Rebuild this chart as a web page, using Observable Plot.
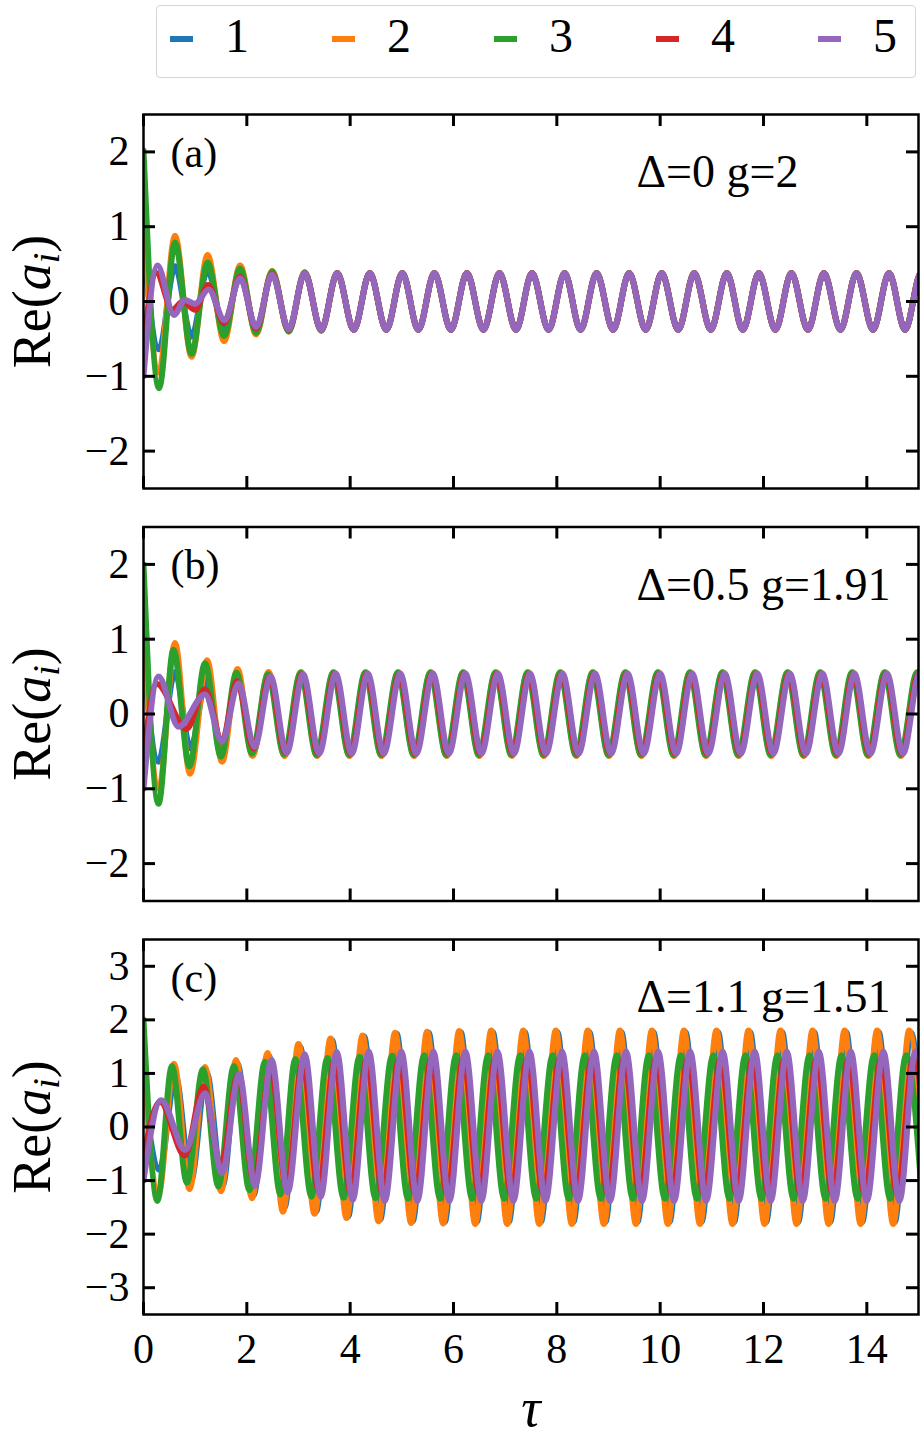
<!DOCTYPE html>
<html><head><meta charset="utf-8">
<script src="https://cdn.jsdelivr.net/npm/d3@7"></script>
<script src="https://cdn.jsdelivr.net/npm/@observablehq/plot@0.6"></script>
<style>
html,body{margin:0;padding:0;background:#fff;}
#root{position:relative;width:923px;font-family:"Liberation Serif","Times New Roman",serif;color:#000;}
#legend{position:relative;height:95px;}
.lgbox{position:absolute;left:156px;top:5px;width:758px;height:71px;border:1.5px solid #d5d5d5;border-radius:4px;}
.lgmark{position:absolute;top:36px;width:23px;height:6px;}
.lgtext{position:absolute;top:10px;width:40px;text-align:center;font-size:48px;line-height:52px;}
svg{display:block;}
</style></head><body><div id="root"><div id="legend"></div></div>
<script>
// ---------- data ----------
const seriesNames = ["1", "2", "3", "4", "5"];
const colors = ["#1f77b4", "#ff7f0e", "#2ca02c", "#d62728", "#9467bd"];
const xTicks = [0, 2, 4, 6, 8, 10, 12, 14];
const yTicksAB = [-2, -1, 0, 1, 2];
const yTicksC = [-3, -2, -1, 0, 1, 2, 3];
const panelLetters = ["(a)", "(b)", "(c)"];
const panelNotes = ["\u0394=0 g=2", "\u0394=0.5 g=1.91", "\u0394=1.1 g=1.51"];
const yLabel = "Re(a_i)";
const xLabel = "\u03c4";

// panel (a): extrema [tau, value]
const aSteady = [[3.75,0.38],[4.07,-0.38],[4.38,0.38],[4.70,-0.38],[5.01,0.38],[5.32,-0.38],[5.63,0.38],[5.95,-0.38],[6.26,0.38],[6.58,-0.38],[6.89,0.38],[7.21,-0.38],[7.52,0.38],[7.84,-0.38],[8.15,0.38],[8.46,-0.38],[8.77,0.38],[9.09,-0.38],[9.40,0.38],[9.72,-0.38],[10.03,0.38],[10.35,-0.38],[10.66,0.38],[10.98,-0.38],[11.29,0.38],[11.60,-0.38],[11.91,0.38],[12.23,-0.38],[12.54,0.38],[12.86,-0.38],[13.17,0.38],[13.49,-0.38],[13.80,0.38],[14.12,-0.38],[14.43,0.38],[14.74,-0.38],[15.05,0.38],[15.37,-0.38]];
const a1Start = [[0,0.70],[0.30,-0.64],[0.61,0.47],[0.93,-0.47],[1.24,0.42],[1.56,-0.40],[1.87,0.38],[2.18,-0.38],[2.49,0.38],[2.81,-0.38],[3.12,0.38],[3.44,-0.38]];
const a2Start = [[0,1.02],[0.30,-0.95],[0.61,0.88],[0.93,-0.74],[1.24,0.62],[1.56,-0.53],[1.87,0.48],[2.18,-0.44],[2.49,0.41],[2.81,-0.40],[3.12,0.39],[3.44,-0.39]];
const a3Start = [[0,2.02],[0.30,-1.16],[0.61,0.79],[0.93,-0.70],[1.24,0.52],[1.56,-0.46],[1.87,0.44],[2.18,-0.42],[2.49,0.40],[2.81,-0.40],[3.12,0.39],[3.44,-0.39]];
const a4Start = [[0,-0.55],[0.25,0.38],[0.56,-0.11],[0.76,0.00],[1.00,-0.11],[1.25,0.22],[1.56,-0.29],[1.87,0.33],[2.18,-0.36],[2.49,0.37],[2.81,-0.38],[3.12,0.38],[3.44,-0.38]];
const a5Start = [[0,-1.00],[0.27,0.48],[0.59,-0.18],[0.80,0.02],[1.00,-0.03],[1.26,0.16],[1.57,-0.25],[1.87,0.31],[2.18,-0.34],[2.49,0.36],[2.81,-0.37],[3.12,0.38],[3.44,-0.38]];

// panel (b)
const b1 = [[0,0.70],[0.29,-0.64],[0.61,0.56],[0.91,-0.46],[1.22,0.46],[1.52,-0.47],[1.82,0.50],[2.12,-0.52],[2.43,0.53],[2.74,-0.54],[3.06,0.54],[3.37,-0.54],[3.69,0.54],[4.00,-0.54],[4.31,0.54],[4.62,-0.54],[4.94,0.54],[5.25,-0.54],[5.57,0.54],[5.88,-0.54],[6.20,0.54],[6.51,-0.54],[6.83,0.54],[7.14,-0.54],[7.45,0.54],[7.76,-0.54],[8.08,0.54],[8.39,-0.54],[8.71,0.54],[9.02,-0.54],[9.34,0.54],[9.65,-0.54],[9.97,0.54],[10.28,-0.54],[10.59,0.54],[10.90,-0.54],[11.22,0.54],[11.53,-0.54],[11.85,0.54],[12.16,-0.54],[12.48,0.54],[12.79,-0.54],[13.11,0.54],[13.42,-0.54],[13.73,0.54],[14.04,-0.54],[14.36,0.54],[14.67,-0.54],[14.99,0.54],[15.30,-0.54]];
const b2 = [[0,1.00],[0.30,-1.00],[0.61,0.95],[0.90,-0.80],[1.23,0.72],[1.52,-0.64],[1.82,0.60],[2.11,-0.56],[2.42,0.56],[2.73,-0.56],[3.05,0.56],[3.36,-0.56],[3.68,0.56],[3.99,-0.56],[4.30,0.56],[4.61,-0.56],[4.93,0.56],[5.24,-0.56],[5.56,0.56],[5.87,-0.56],[6.19,0.56],[6.50,-0.56],[6.82,0.56],[7.13,-0.56],[7.44,0.56],[7.75,-0.56],[8.07,0.56],[8.38,-0.56],[8.70,0.56],[9.01,-0.56],[9.33,0.56],[9.64,-0.56],[9.96,0.56],[10.27,-0.56],[10.58,0.56],[10.89,-0.56],[11.21,0.56],[11.52,-0.56],[11.84,0.56],[12.15,-0.56],[12.47,0.56],[12.78,-0.56],[13.10,0.56],[13.41,-0.56],[13.72,0.56],[14.03,-0.56],[14.35,0.56],[14.66,-0.56],[14.98,0.56],[15.29,-0.56]];
const b3 = [[0,2.00],[0.29,-1.20],[0.58,0.86],[0.89,-0.70],[1.19,0.68],[1.50,-0.57],[1.80,0.55],[2.10,-0.53],[2.41,0.53],[2.72,-0.54],[3.04,0.55],[3.35,-0.55],[3.67,0.55],[3.98,-0.55],[4.29,0.55],[4.60,-0.55],[4.92,0.55],[5.23,-0.55],[5.55,0.55],[5.86,-0.55],[6.18,0.55],[6.49,-0.55],[6.81,0.55],[7.12,-0.55],[7.43,0.55],[7.74,-0.55],[8.06,0.55],[8.37,-0.55],[8.69,0.55],[9.00,-0.55],[9.32,0.55],[9.63,-0.55],[9.95,0.55],[10.26,-0.55],[10.57,0.55],[10.88,-0.55],[11.20,0.55],[11.51,-0.55],[11.83,0.55],[12.14,-0.55],[12.46,0.55],[12.77,-0.55],[13.09,0.55],[13.40,-0.55],[13.71,0.55],[14.02,-0.55],[14.34,0.55],[14.65,-0.55],[14.97,0.55],[15.28,-0.55]];
const b4 = [[0,-0.55],[0.26,0.40],[0.83,-0.20],[1.19,0.33],[1.52,-0.36],[1.81,0.44],[2.13,-0.46],[2.44,0.50],[2.75,-0.52],[3.07,0.53],[3.38,-0.53],[3.70,0.53],[4.01,-0.53],[4.32,0.53],[4.63,-0.53],[4.95,0.53],[5.26,-0.53],[5.58,0.53],[5.89,-0.53],[6.21,0.53],[6.52,-0.53],[6.84,0.53],[7.15,-0.53],[7.46,0.53],[7.77,-0.53],[8.09,0.53],[8.40,-0.53],[8.72,0.53],[9.03,-0.53],[9.35,0.53],[9.66,-0.53],[9.98,0.53],[10.29,-0.53],[10.60,0.53],[10.91,-0.53],[11.23,0.53],[11.54,-0.53],[11.86,0.53],[12.17,-0.53],[12.49,0.53],[12.80,-0.53],[13.12,0.53],[13.43,-0.53],[13.74,0.53],[14.05,-0.53],[14.37,0.53],[14.68,-0.53],[15.00,0.53],[15.31,-0.53]];
const b5 = [[0,-1.00],[0.29,0.50],[0.68,-0.17],[1.19,0.26],[1.52,-0.37],[1.84,0.41],[2.15,-0.44],[2.46,0.50],[2.77,-0.52],[3.09,0.53],[3.40,-0.53],[3.72,0.54],[4.03,-0.53],[4.34,0.54],[4.65,-0.53],[4.97,0.54],[5.28,-0.53],[5.60,0.54],[5.91,-0.53],[6.23,0.54],[6.54,-0.53],[6.86,0.54],[7.17,-0.53],[7.48,0.54],[7.79,-0.53],[8.11,0.54],[8.42,-0.53],[8.74,0.54],[9.05,-0.53],[9.37,0.54],[9.68,-0.53],[10.00,0.54],[10.31,-0.53],[10.62,0.54],[10.93,-0.53],[11.25,0.54],[11.56,-0.53],[11.88,0.54],[12.19,-0.53],[12.51,0.54],[12.82,-0.53],[13.14,0.54],[13.45,-0.53],[13.76,0.54],[14.07,-0.53],[14.39,0.54],[14.70,-0.53],[15.02,0.54],[15.33,-0.53]];

// panel (c)
const c1 = [[0,0.70],[0.31,-0.80],[0.62,0.95],[0.92,-1.00],[1.22,1.02],[1.53,-1.10],[1.82,1.18],[2.13,-1.28],[2.43,1.33],[2.73,-1.50],[3.03,1.50],[3.34,-1.58],[3.65,1.62],[3.96,-1.67],[4.27,1.69],[4.58,-1.73],[4.90,1.74],[5.21,-1.76],[5.52,1.76],[5.83,-1.77],[6.14,1.77],[6.45,-1.77],[6.76,1.77],[7.07,-1.77],[7.38,1.77],[7.69,-1.77],[8.01,1.77],[8.32,-1.77],[8.63,1.77],[8.94,-1.77],[9.25,1.77],[9.56,-1.77],[9.87,1.77],[10.18,-1.77],[10.49,1.77],[10.80,-1.77],[11.12,1.77],[11.43,-1.77],[11.74,1.77],[12.05,-1.77],[12.36,1.77],[12.67,-1.77],[12.98,1.77],[13.29,-1.77],[13.60,1.77],[13.91,-1.77],[14.23,1.77],[14.54,-1.77],[14.85,1.77],[15.16,-1.77]];
const c2 = [[0,1.00],[0.29,-1.25],[0.59,1.18],[0.89,-1.16],[1.19,1.12],[1.50,-1.20],[1.79,1.25],[2.10,-1.33],[2.40,1.38],[2.70,-1.58],[3.00,1.55],[3.31,-1.62],[3.62,1.65],[3.93,-1.70],[4.24,1.71],[4.55,-1.76],[4.87,1.76],[5.18,-1.79],[5.49,1.78],[5.80,-1.80],[6.11,1.79],[6.42,-1.81],[6.73,1.80],[7.04,-1.81],[7.35,1.80],[7.66,-1.81],[7.98,1.80],[8.29,-1.81],[8.60,1.80],[8.91,-1.81],[9.22,1.80],[9.53,-1.81],[9.84,1.80],[10.15,-1.81],[10.46,1.80],[10.77,-1.81],[11.09,1.80],[11.40,-1.81],[11.71,1.80],[12.02,-1.81],[12.33,1.80],[12.64,-1.81],[12.95,1.80],[13.26,-1.81],[13.57,1.80],[13.88,-1.81],[14.20,1.80],[14.51,-1.81],[14.82,1.80],[15.13,-1.81]];
const c3 = [[0,2.00],[0.27,-1.38],[0.55,1.14],[0.84,-1.04],[1.15,1.08],[1.45,-1.11],[1.75,1.14],[2.05,-1.18],[2.35,1.22],[2.65,-1.26],[2.94,1.27],[3.25,-1.30],[3.56,1.29],[3.87,-1.32],[4.18,1.31],[4.49,-1.33],[4.81,1.33],[5.12,-1.34],[5.43,1.34],[5.74,-1.34],[6.05,1.34],[6.36,-1.34],[6.67,1.34],[6.98,-1.34],[7.29,1.34],[7.60,-1.34],[7.92,1.34],[8.23,-1.34],[8.54,1.34],[8.85,-1.34],[9.16,1.34],[9.47,-1.34],[9.78,1.34],[10.09,-1.34],[10.40,1.34],[10.71,-1.34],[11.03,1.34],[11.34,-1.34],[11.65,1.34],[11.96,-1.34],[12.27,1.34],[12.58,-1.34],[12.89,1.34],[13.20,-1.34],[13.51,1.34],[13.82,-1.34],[14.14,1.34],[14.45,-1.34],[14.76,1.34],[15.07,-1.34]];
const c4 = [[0,-0.55],[0.32,0.47],[0.80,-0.53],[1.16,0.75],[1.50,-0.72],[1.83,0.97],[2.14,-1.02],[2.46,1.12],[2.77,-1.12],[3.08,1.20],[3.39,-1.18],[3.70,1.24],[4.01,-1.22],[4.32,1.26],[4.63,-1.24],[4.95,1.28],[5.26,-1.25],[5.57,1.28],[5.88,-1.25],[6.19,1.28],[6.50,-1.25],[6.81,1.28],[7.12,-1.25],[7.43,1.28],[7.74,-1.25],[8.06,1.28],[8.37,-1.25],[8.68,1.28],[8.99,-1.25],[9.30,1.28],[9.61,-1.25],[9.92,1.28],[10.23,-1.25],[10.54,1.28],[10.85,-1.25],[11.17,1.28],[11.48,-1.25],[11.79,1.28],[12.10,-1.25],[12.41,1.28],[12.72,-1.25],[13.03,1.28],[13.34,-1.25],[13.65,1.28],[13.96,-1.25],[14.28,1.28],[14.59,-1.25],[14.90,1.28],[15.21,-1.25]];
const c5 = [[0,-1.00],[0.34,0.50],[0.81,-0.43],[1.19,0.63],[1.52,-0.86],[1.85,0.99],[2.16,-1.10],[2.48,1.25],[2.79,-1.22],[3.12,1.36],[3.43,-1.30],[3.74,1.40],[4.05,-1.36],[4.36,1.41],[4.67,-1.38],[4.99,1.41],[5.30,-1.38],[5.61,1.41],[5.92,-1.38],[6.23,1.41],[6.54,-1.38],[6.85,1.41],[7.16,-1.38],[7.47,1.41],[7.78,-1.38],[8.10,1.41],[8.41,-1.38],[8.72,1.41],[9.03,-1.38],[9.34,1.41],[9.65,-1.38],[9.96,1.41],[10.27,-1.38],[10.58,1.41],[10.89,-1.38],[11.21,1.41],[11.52,-1.38],[11.83,1.41],[12.14,-1.38],[12.45,1.41],[12.76,-1.38],[13.07,1.41],[13.38,-1.38],[13.69,1.41],[14.00,-1.38],[14.32,1.41],[14.63,-1.38],[14.94,1.41],[15.25,-1.38]];

const panelA = [a1Start, a2Start, a3Start, a4Start, a5Start].map(s => s.concat(aSteady));
const panelB = [b1, b2, b3, b4, b5];
const panelC = [c1, c2, c3, c4, c5];

// ---------- rendering ----------
const FONT = '"Liberation Serif", "Times New Roman", serif';
const fmt = d => d < 0 ? "\u2212" + Math.abs(d) : String(d);

function makePanel({series, yDomain, yTicks, letter, note, showX, height, mt, mb}) {
  const W = 923, ML = 143, MR = 5, TICK = 12;
  const innerH = height - mt - mb, innerW = W - ML - MR;
  const marks = [];
  series.forEach((s, i) => marks.push(Plot.line(s, {
    x: d => d[0], y: d => d[1], stroke: colors[i], strokeWidth: 6,
    curve: "monotone-x", clip: true
  })));
  marks.push(Plot.ruleX(xTicks, {x: d => d, insetTop: innerH - TICK, stroke: "#000", strokeWidth: 3}));
  marks.push(Plot.ruleX(xTicks, {x: d => d, insetBottom: innerH - TICK, stroke: "#000", strokeWidth: 3}));
  marks.push(Plot.ruleY(yTicks, {y: d => d, insetRight: innerW - TICK, stroke: "#000", strokeWidth: 3}));
  marks.push(Plot.ruleY(yTicks, {y: d => d, insetLeft: innerW - TICK, stroke: "#000", strokeWidth: 3}));
  marks.push(Plot.frame({stroke: "#000", strokeWidth: 2.5}));
  marks.push(Plot.text([letter], {frameAnchor: "top-left", text: d => d, dx: 27, dy: 39,
    textAnchor: "start", lineAnchor: "middle", fontSize: 42, fill: "#000"}));
  marks.push(Plot.text([note], {frameAnchor: "top-left", text: d => d, dx: 493, dy: 58,
    textAnchor: "start", lineAnchor: "middle", fontSize: 46, fill: "#000"}));
  marks.push(Plot.text([yLabel], {frameAnchor: "left", text: d => d, rotate: -90, dx: -111,
    textAnchor: "middle", lineAnchor: "middle", fontSize: 54, fill: "#000"}));
  if (showX) marks.push(Plot.text([xLabel], {frameAnchor: "bottom", text: d => d, dy: 94,
    textAnchor: "middle", lineAnchor: "middle", fontSize: 54, fontStyle: "italic", fill: "#000"}));
  const svg = Plot.plot({
    width: W, height, marginLeft: ML, marginRight: MR, marginTop: mt, marginBottom: mb,
    style: {fontFamily: FONT, fontSize: "42px", background: "white", color: "black"},
    x: {domain: [0, 15], ticks: xTicks, tickSize: 0, tickPadding: 19, tickFormat: fmt,
        axis: showX ? "bottom" : null, label: null},
    y: {domain: yDomain, ticks: yTicks, tickSize: 0, tickPadding: 14, tickFormat: fmt, label: null},
    marks
  });
  // typeset the y label as Re(a_i) with italic a and subscript i
  d3.select(svg).selectAll("text").filter(function() { return this.textContent === yLabel; })
    .each(function() {
      const t = d3.select(this);
      t.text(null);
      t.append("tspan").text("Re(");
      t.append("tspan").attr("font-style", "italic").text("a");
      t.append("tspan").attr("font-style", "italic").attr("font-size", "38px").attr("dy", 9).text("i");
      t.append("tspan").attr("dy", -9).text(")");
    });
  return svg;
}

// legend (HTML, above the plots)
const legend = document.getElementById("legend");
const box = document.createElement("div"); box.className = "lgbox"; legend.appendChild(box);
const markLeft = [170, 332, 494, 656, 818];
const textCenter = [237, 399, 561, 723, 885];
seriesNames.forEach((name, i) => {
  const m = document.createElement("div");
  m.className = "lgmark"; m.style.left = markLeft[i] + "px"; m.style.background = colors[i];
  legend.appendChild(m);
  const t = document.createElement("div");
  t.className = "lgtext"; t.style.left = (textCenter[i] - 20) + "px"; t.textContent = name;
  legend.appendChild(t);
});

const root = document.getElementById("root");
root.appendChild(makePanel({series: panelA, yDomain: [-2.5, 2.5], yTicks: yTicksAB,
  letter: panelLetters[0], note: panelNotes[0], showX: false, height: 412, mt: 19, mb: 19}));
root.appendChild(makePanel({series: panelB, yDomain: [-2.5, 2.5], yTicks: yTicksAB,
  letter: panelLetters[1], note: panelNotes[1], showX: false, height: 412, mt: 19.5, mb: 18.5}));
root.appendChild(makePanel({series: panelC, yDomain: [-3.5, 3.5], yTicks: yTicksC,
  letter: panelLetters[2], note: panelNotes[2], showX: true, height: 522, mt: 20, mb: 127}));
</script></body></html>
